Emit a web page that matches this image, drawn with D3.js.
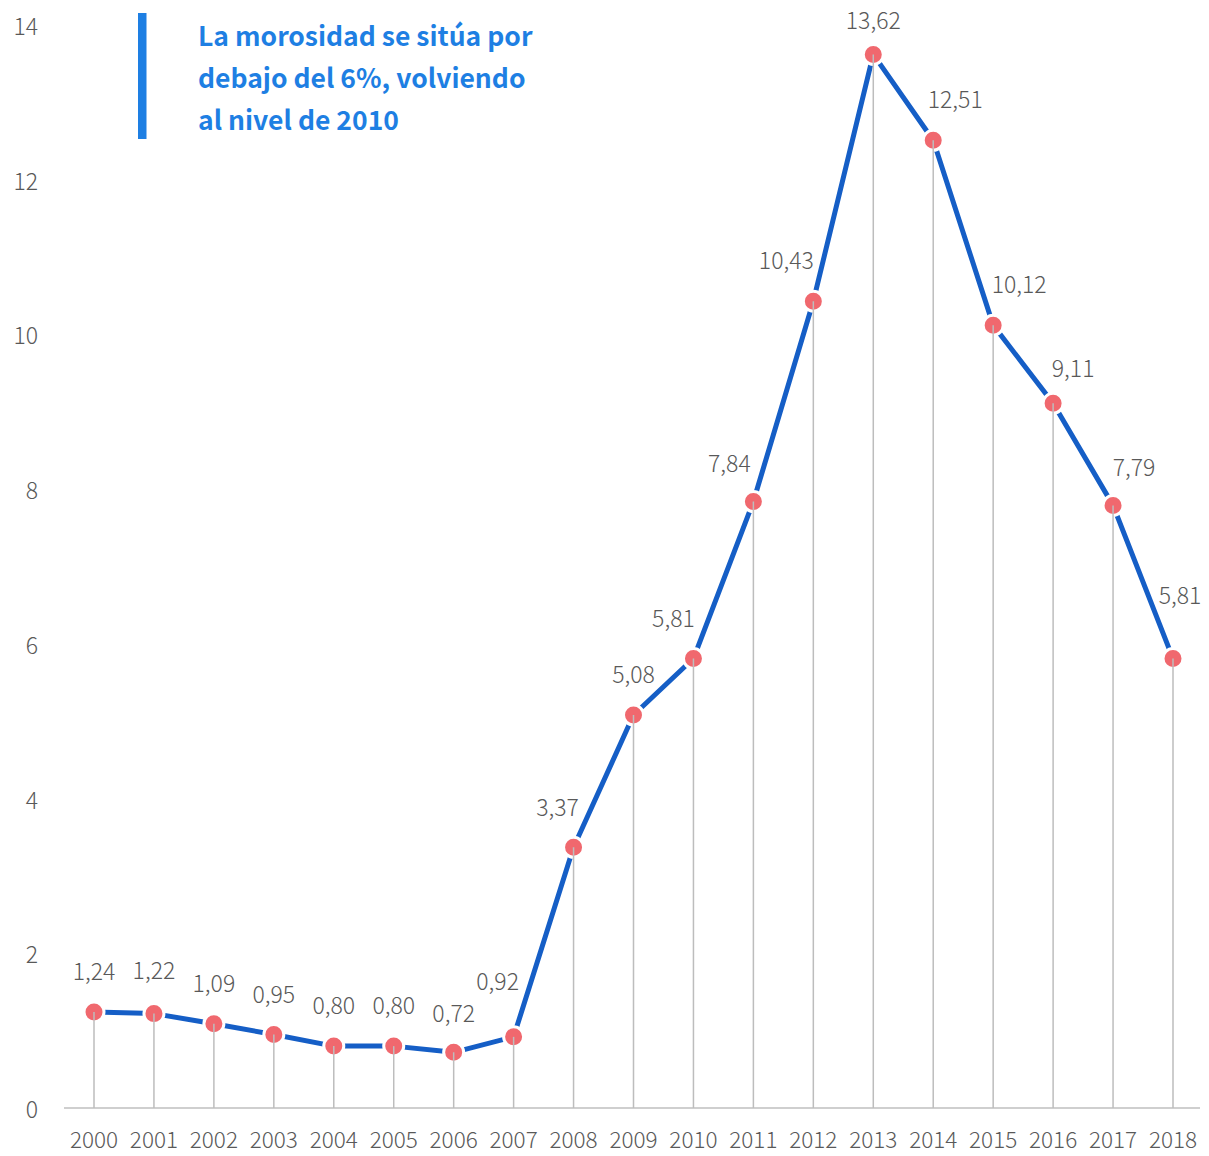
<!DOCTYPE html>
<html>
<head>
<meta charset="utf-8">
<script src="https://cdn.jsdelivr.net/npm/d3@7"></script>
<style>
  html, body { margin: 0; padding: 0; background: #fff; }
  svg { display: block; }
  text { font-family: "Noto Sans CJK JP", "Noto Sans", sans-serif; }
</style>
</head>
<body>
<svg id="chart" width="1209" height="1156"></svg>
<script>
const years = [2000,2001,2002,2003,2004,2005,2006,2007,2008,2009,2010,2011,2012,2013,2014,2015,2016,2017,2018];
const morosidad = [1.24,1.22,1.09,0.95,0.80,0.80,0.72,0.92,3.37,5.08,5.81,7.84,10.43,13.62,12.51,10.12,9.11,7.79,5.81];
const yTicks = [0,2,4,6,8,10,12,14];
const titleLines = ["La morosidad se sitúa por", "debajo del 6%, volviendo", "al nivel de 2010"];
// label placement relative to each point (layout only)
const labelDx = [0,0,0,0,0,0,0,-16,-16,0,-20,-24,-27,0,22,26,20,21,7];
const labelDy = [-42,-45,-42,-42,-42,-42,-40,-57,-41,-42,-42,-40,-42,-35,-42,-42,-36,-39,-65];

const svg = d3.select("#chart");
const x = d3.scaleLinear().domain([2000, 2018]).range([94, 1173]);
const y = d3.scaleLinear().domain([0, 14]).range([1108, 25]);
const fmt = v => d3.format(".2f")(v).replace(".", ",");
const data = years.map((yr, i) => ({yr, v: morosidad[i], i}));

// y tick labels
svg.append("g").selectAll("text").data(yTicks).join("text")
  .attr("x", 38).attr("y", d => y(d))
  .attr("text-anchor", "end").attr("dominant-baseline", "central")
  .attr("fill", "#595959").attr("font-size", 23).attr("font-weight", 300)
  .text(d => d);

// baseline
svg.append("line")
  .attr("x1", 64).attr("x2", 1200)
  .attr("y1", y(0)).attr("y2", y(0))
  .attr("stroke", "#bfbfbf").attr("stroke-width", 1.5);

// x labels
svg.append("g").selectAll("text").data(years).join("text")
  .attr("x", d => x(d)).attr("y", 1148)
  .attr("text-anchor", "middle")
  .attr("fill", "#595959").attr("font-size", 22.5).attr("font-weight", 300)
  .text(d => d);

// line
svg.append("path").datum(data)
  .attr("d", d3.line().x(d => x(d.yr)).y(d => y(d.v)))
  .attr("fill", "none").attr("stroke", "#155EC6")
  .attr("stroke-width", 5).attr("stroke-linejoin", "round");

// markers
svg.append("g").selectAll("circle").data(data).join("circle")
  .attr("cx", d => x(d.yr)).attr("cy", d => y(d.v)).attr("r", 10)
  .attr("fill", "#F0686E").attr("stroke", "#fff").attr("stroke-width", 3);

// drop lines
svg.append("g").selectAll("line").data(data).join("line")
  .attr("x1", d => x(d.yr)).attr("x2", d => x(d.yr))
  .attr("y1", d => y(d.v)).attr("y2", y(0))
  .attr("stroke", "#bdbdbd").attr("stroke-width", 1.5);

// data labels
svg.append("g").selectAll("text").data(data).join("text")
  .attr("x", d => x(d.yr) + labelDx[d.i])
  .attr("y", d => y(d.v) + labelDy[d.i])
  .attr("text-anchor", "middle").attr("dominant-baseline", "central")
  .attr("fill", "#595959").attr("font-size", 23).attr("font-weight", 300)
  .text(d => fmt(d.v));

// title block
svg.append("rect").attr("x", 138).attr("y", 13).attr("width", 8.5).attr("height", 126)
  .attr("fill", "#1E7FE3");
svg.append("g").selectAll("text").data(titleLines).join("text")
  .attr("x", 198).attr("y", (d, i) => 34 + i * 42)
  .attr("dominant-baseline", "central")
  .attr("fill", "#1E7FE3").attr("font-size", 26.5).attr("font-weight", "bold")
  .text(d => d);
</script>
</body>
</html>
